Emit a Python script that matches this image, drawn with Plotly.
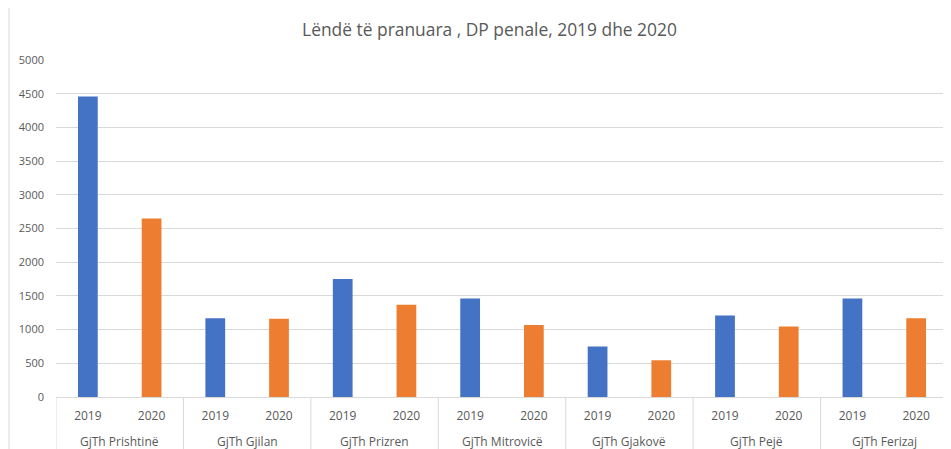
import plotly.graph_objects as go

courts = ["GjTh Prishtinë", "GjTh Gjilan", "GjTh Prizren", "GjTh Mitrovicë",
          "GjTh Gjakovë", "GjTh Pejë", "GjTh Ferizaj"]
years = ["2019", "2020"]
values_2019 = [4460, 1170, 1750, 1460, 750, 1210, 1460]
values_2020 = [2650, 1160, 1370, 1070, 545, 1045, 1170]

title_text = "Lëndë të pranuara , DP penale, 2019 dhe 2020"
y_ticks = [0, 500, 1000, 1500, 2000, 2500, 3000, 3500, 4000, 4500, 5000]

n = len(courts)
pos_2019 = [2 * i for i in range(n)]
pos_2020 = [2 * i + 1 for i in range(n)]

fig = go.Figure()
fig.add_trace(go.Bar(x=pos_2019, y=values_2019, name=years[0],
                     marker=dict(color="#4472C4", line=dict(width=0)),
                     width=0.31, showlegend=False))
fig.add_trace(go.Bar(x=pos_2020, y=values_2020, name=years[1],
                     marker=dict(color="#ED7D31", line=dict(width=0)),
                     width=0.31, showlegend=False))

font_family = "Open Sans, Liberation Sans, sans-serif"
W, H = 943, 441
ML, MR, MT, MB = 48, 3, 52, 52
H_PLOT = H - MT - MB
W_PLOT = W - ML - MR
fig.update_layout(
    width=W, height=H,
    margin=dict(l=ML, r=MR, t=MT, b=MB),
    paper_bgcolor="white", plot_bgcolor="white",
    title=dict(text=title_text, x=481.5 / W, xanchor="center", xref="container",
               y=1 - 22 / H, yanchor="middle", yref="container",
               font=dict(family=font_family, size=17.4, color="#595959")),
    font=dict(family=font_family, size=12, color="#595959"),
    barmode="overlay",
)
fig.update_xaxes(
    range=[-0.5, 2 * n - 0.5],
    tickvals=pos_2019 + pos_2020,
    ticktext=[years[0]] * n + [years[1]] * n,
    ticks="", ticklabelstandoff=8,
    showline=True, linecolor="#D9D9D9", linewidth=1,
    showgrid=False, zeroline=False, automargin=False,
    tickfont=dict(size=12, color="#595959"),
)
fig.update_yaxes(
    range=[0, 5000], tickvals=y_ticks, ticktext=[str(v) for v in y_ticks],
    showgrid=True, gridcolor="#D9D9D9", gridwidth=1,
    zeroline=False, showline=False, automargin=False,
    tickfont=dict(size=11, color="#595959"),
    ticklabelstandoff=11,
)
for i, c in enumerate(courts):
    fig.add_annotation(x=2 * i + 0.5, xref="x", y=-44 / H_PLOT, yref="paper",
                       text=c, showarrow=False, xanchor="center", yanchor="middle",
                       font=dict(size=12, color="#595959", family=font_family))
for i in range(n + 1):
    fig.add_shape(type="line", xref="x", yref="paper",
                  x0=2 * i - 0.5, x1=2 * i - 0.5, y0=0, y1=-MB / H_PLOT,
                  line=dict(color="#D9D9D9", width=1))
fig.add_shape(type="line", xref="paper", yref="paper",
              x0=(1 - ML) / W_PLOT, x1=(1 - ML) / W_PLOT, y0=-MB / H_PLOT, y1=1 + MT / H_PLOT,
              line=dict(color="#D9D9D9", width=1))

fig.write_html("out.html")
